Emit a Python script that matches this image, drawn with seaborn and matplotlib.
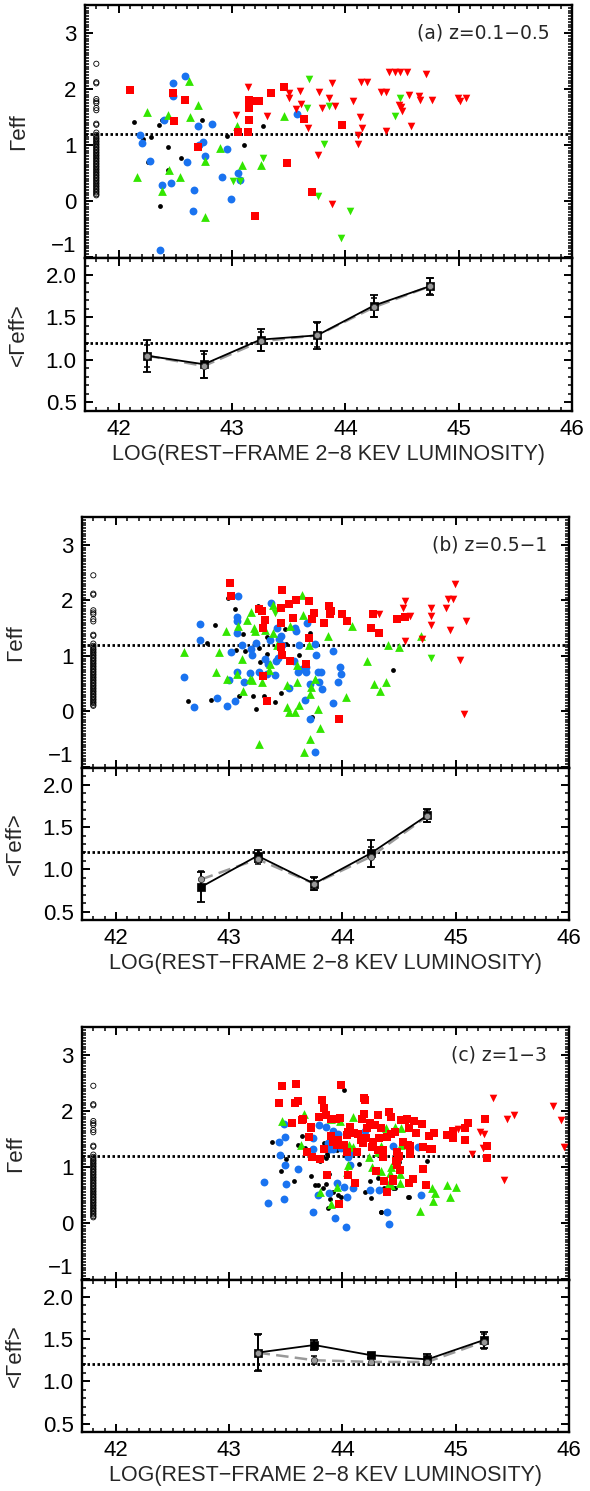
import numpy as np
import pandas as pd
import matplotlib
matplotlib.use('Agg')
import matplotlib.pyplot as plt
import seaborn as sns
from matplotlib.ticker import MultipleLocator, FormatStrFormatter

sns.set_theme(style='white')
plt.rcParams['font.family'] = ['Liberation Sans', 'DejaVu Sans']

# open circles at the left edge (same column in every panel)
open_x = 41.8
open_y = [2.45, 2.12, 2.10, 1.82, 1.78, 1.75, 1.66, 1.62, 1.38, 1.36, 1.22, 1.18, 1.15,
          1.12, 1.10, 1.07, 1.05, 1.02, 1.00, 0.97, 0.95, 0.92, 0.90, 0.87, 0.85, 0.82,
          0.80, 0.77, 0.75, 0.72, 0.70, 0.67, 0.65, 0.62, 0.60, 0.57, 0.55, 0.52, 0.50,
          0.47, 0.45, 0.42, 0.40, 0.37, 0.35, 0.32, 0.30, 0.27, 0.25, 0.22, 0.20, 0.17,
          0.15, 0.12, 0.10]

# ---- panel (a) z=0.1-0.5
a_dot_x = [42.13, 42.21, 42.26, 42.28, 42.35, 42.38, 42.43, 42.43, 42.36, 42.55, 42.73, 42.95, 43.10, 43.27]
a_dot_y = [1.41, 1.11, 0.70, 1.14, 1.36, 1.44, 0.96, 0.55, -0.09, 0.77, 1.45, 1.16, 1.00, 1.33]
a_blue_x = [42.19, 42.20, 42.27, 42.38, 42.40, 42.46, 42.48, 42.48, 42.58, 42.60, 42.66, 42.65,
            42.70, 42.71, 42.74, 42.76, 42.82, 42.36, 42.91, 42.95, 42.99, 43.05, 43.07, 43.57]
a_blue_y = [1.18, 1.04, 0.71, 0.28, 1.45, 0.32, 2.10, 1.88, 2.24, 0.69, 0.20, -0.18,
            1.33, 1.00, 1.06, 0.80, 1.37, -0.88, 0.42, 0.92, 0.04, 0.50, 0.37, 1.55]
a_gup_x = [42.16, 42.25, 42.38, 42.43, 42.44, 42.54, 42.62, 42.63, 42.70, 42.76, 42.76, 42.89, 43.04, 43.09, 43.25, 43.46]
a_gup_y = [0.42, 1.58, 0.18, 1.54, 0.55, 0.42, 2.15, 1.50, 1.72, -0.28, 0.71, 0.95, 1.33, 0.65, 0.65, 1.51]
a_gdn_x = [43.01, 43.07, 43.27, 43.66, 43.68, 43.76, 43.81, 43.85, 43.96, 44.04, 44.44, 44.48]
a_gdn_y = [0.35, 0.35, 0.77, 1.66, 2.18, 0.08, 1.01, 1.70, -0.66, -0.18, 1.51, 1.84]
a_sq_x = [42.10, 42.48, 42.49, 42.58, 42.70, 43.05, 43.14, 43.15, 43.15, 43.15, 43.21, 43.20,
          43.24, 43.34, 43.46, 43.48, 43.63, 43.70, 43.97]
a_sq_y = [1.98, 1.92, 1.42, 1.81, 0.97, 1.23, 1.23, 1.66, 1.80, 1.45, 1.78, -0.27,
          1.78, 1.92, 2.03, 0.68, 1.47, 0.16, 1.36]
a_rdn_x = [43.14, 43.03, 43.31, 43.50, 43.50, 43.56, 43.60, 43.61, 43.67, 43.76, 43.77, 43.79,
           43.85, 43.88, 43.88, 43.91, 44.07, 44.11, 44.11, 44.13, 44.15, 44.14, 44.19, 44.31,
           44.36, 44.36, 44.38, 44.44, 44.48, 44.54, 44.47, 44.49, 44.50, 44.58, 44.56, 44.65,
           44.66, 44.71, 44.76, 44.99, 45.01, 45.06]
a_rdn_y = [2.03, 1.54, 1.51, 1.92, 1.84, 1.64, 1.97, 1.73, 1.30, 0.82, 1.94, 1.66,
           1.83, 2.11, -0.06, 1.69, 1.78, 1.01, 1.17, 1.50, 1.30, 2.13, 2.12, 1.94,
           1.94, 1.25, 2.31, 2.30, 2.30, 2.30, 1.72, 1.67, 1.60, 1.34, 1.90, 1.88,
           1.80, 2.26, 1.81, 1.83, 1.79, 1.83]

# ---- panel (b) z=0.5-1
b_dot_x = [42.64, 42.80, 42.84, 42.87, 42.99, 43.05, 43.06, 43.09, 43.12, 43.14, 43.21, 43.24, 43.25,
           43.26, 43.27, 43.31, 43.33, 43.33, 43.40, 43.46, 43.49, 43.50, 43.62, 43.71, 43.73, 44.45]
b_dot_y = [0.18, 1.23, 0.21, 1.55, 2.04, 1.85, 1.10, 0.27, 1.39, 1.08, 0.27, 0.04, 1.89,
           1.14, 0.88, 0.27, 1.03, 1.34, 0.17, 0.33, 1.48, 1.22, 1.01, 1.42, -0.10, 0.75]
b_blue_x = [42.60, 42.69, 42.74, 42.74, 42.89, 42.98, 43.00, 43.02, 43.05, 43.07, 43.07, 43.07,
            43.08, 43.07, 43.11, 43.13, 43.18, 43.19, 43.20, 43.24, 43.26, 43.32, 43.33, 43.34,
            43.36, 43.37, 43.40, 43.41, 43.42, 43.43, 43.44, 43.46, 43.47, 43.53, 43.57, 43.58,
            43.59, 43.61, 43.62, 43.64, 43.67, 43.68, 43.68, 43.69, 43.71, 43.71, 43.76, 43.76,
            43.77, 43.78, 43.79, 43.81, 43.82, 43.92, 43.92, 43.96, 43.98, 43.99]
b_blue_y = [0.61, 0.08, 1.28, 1.58, 0.24, 0.10, 0.56, 1.06, 0.18, 0.70, 1.63, 1.70,
            2.08, 1.41, 1.20, 0.53, 0.69, 1.13, 1.01, 1.23, 0.71, 0.95, 0.68, 0.85,
            1.28, 1.96, 0.65, 0.91, 1.51, 0.96, 1.31, 1.36, 1.20, 0.42, 0.91, 1.50,
            1.44, 0.71, 1.20, 0.77, 0.21, 0.80, 0.71, 1.59, 0.50, -0.14, -0.74, 1.22,
            1.01, 0.71, 0.53, 0.71, 0.40, 0.15, 1.08, 0.52, 0.79, 0.68]
b_gup_x = [42.60, 42.88, 42.91, 42.97, 42.98, 43.07, 43.08, 43.11, 43.12, 43.16, 43.19, 43.18,
           43.20, 43.22, 43.23, 43.26, 43.29, 43.32, 43.35, 43.36, 43.39, 43.39, 43.42, 43.51,
           43.51, 43.53, 43.54, 43.58, 43.60, 43.62, 43.64, 43.65, 43.60, 43.66, 43.70, 43.71,
           43.71, 43.72, 43.76, 43.78, 43.80, 43.87, 44.08, 44.03, 44.22, 44.28, 44.33, 44.38,
           44.40, 44.50, 44.69]
b_gup_y = [1.06, 0.70, 1.07, 1.45, 0.59, 0.67, 1.53, 0.95, 0.36, 1.64, 1.79, 0.59,
           0.56, 1.51, 1.45, -0.58, 0.52, 1.47, 0.74, 0.86, 1.91, 1.42, 1.20, 0.47,
           0.07, -0.01, 1.54, -0.01, 0.53, 0.12, 2.10, 1.74, 0.83, -0.74, 1.19, -0.49,
           0.31, 0.43, 0.59, 0.04, -0.30, 1.36, 1.54, 0.26, 0.91, 0.49, 0.36, 0.52,
           1.20, 1.15, 1.35]
b_gdn_x = [43.40, 44.78]
b_gdn_y = [1.78, 0.96]
b_sq_x = [43.01, 43.02, 43.26, 43.29, 43.30, 43.32, 43.30, 43.33, 43.46, 43.46, 43.46, 43.47,
          43.47, 43.53, 43.54, 43.56, 43.59, 43.68, 43.70, 43.70, 43.73, 43.75, 43.84, 43.88,
          43.89, 43.90, 43.97, 44.00, 44.04, 44.25, 44.27, 44.32, 44.48, 44.55]
b_sq_y = [2.31, 2.08, 1.85, 1.81, 1.50, 1.65, 0.64, 0.19, 1.87, 1.60, 1.15, 1.02,
          2.18, 1.93, 0.90, 1.69, 2.01, 0.85, 1.98, 1.32, 1.67, 1.78, 1.60, 1.89,
          1.76, 1.81, -0.14, 1.75, 1.62, 1.50, 1.76, 1.42, 1.66, 1.70]
b_rdn_x = [44.32, 44.53, 44.55, 44.55, 44.60, 44.70, 44.78, 44.78, 44.78, 44.91, 44.93, 44.95,
           44.98, 44.99, 45.04, 45.07, 45.09]
b_rdn_y = [1.75, 1.86, 1.99, 1.26, 1.72, 1.31, 1.87, 1.72, 1.56, 1.87, 2.02, 1.47,
           2.03, 2.30, 0.92, -0.05, 1.63]

# ---- panel (c) z=1-3
c_dot_x = [43.38, 43.50, 43.46, 43.57, 43.64, 43.61, 43.67, 43.72, 43.76, 43.78, 43.83, 43.85,
           43.84, 43.86, 43.85, 43.80, 43.87, 43.89, 43.92, 43.96, 43.99, 44.01, 43.88, 44.15,
           44.20, 44.25, 44.24, 44.31, 44.34, 44.37, 44.46, 44.50, 44.58, 43.95, 44.75, 44.59,
           44.45, 44.34]
c_dot_y = [1.44, 1.14, 0.92, 0.74, 1.56, 1.40, 1.34, 0.83, 0.68, 0.67, 0.62, 0.69,
           1.42, 1.23, 1.16, 1.11, 0.26, 0.43, 0.56, 0.50, 0.46, 2.37, 0.88, 1.05,
           0.55, 0.45, 0.75, 0.80, 0.20, 0.63, 0.62, 1.09, 0.46, 1.30, 1.11, 0.46,
           0.62, 0.19]
c_blue_x = [43.31, 43.34, 43.48, 43.49, 43.44, 43.45, 43.49, 43.50, 43.48, 43.61, 43.74, 43.79,
            43.85, 43.74, 43.74, 43.87, 43.89, 43.92, 43.92, 43.96, 43.99, 44.05, 44.09, 44.07,
            43.95, 44.01, 44.09, 44.04, 43.88, 43.78, 43.93, 44.03, 44.20, 44.24, 44.32, 44.39,
            44.41, 44.45, 44.67, 44.69]
c_blue_y = [0.73, 0.36, 1.76, 1.54, 1.44, 1.21, 1.03, 0.70, 0.43, 0.97, 0.20, 1.75,
            1.72, 1.51, 1.32, 1.42, 1.32, 1.32, 1.64, 1.59, 1.34, 1.18, 1.26, 1.04,
            0.71, 0.64, 0.62, 0.46, 0.53, 0.49, 0.09, -0.08, 1.64, 0.58, 0.58, 0.20,
            -0.02, 1.37, 1.36, 0.49]
c_gup_x = [43.47, 43.66, 43.83, 43.90, 43.98, 44.09, 44.38, 44.46, 44.52, 43.63, 44.06, 44.09,
           44.34, 44.52, 44.31, 44.23, 44.05, 44.04, 44.26, 44.34, 44.43, 44.42, 44.51, 44.41,
           44.43, 44.51, 43.80, 43.90, 43.95, 44.79, 44.82, 44.80, 44.92, 45.00, 44.95, 44.68]
c_gup_y = [1.82, 1.95, 1.94, 1.85, 1.82, 1.89, 1.69, 1.71, 1.69, 1.39, 1.39, 1.35,
           1.38, 1.39, 1.26, 1.18, 1.03, 0.91, 0.99, 0.92, 0.99, 0.89, 0.87, 0.71,
           0.68, 0.71, 0.56, 0.34, 0.65, 0.62, 0.53, 0.39, 0.68, 0.65, 0.47, 0.22]
c_sq_x = [43.47, 43.59, 43.44, 43.58, 43.61, 43.82, 43.84, 43.99, 44.19, 44.20, 43.85, 43.79,
          43.65, 43.55, 43.72, 43.90, 43.94, 43.98, 44.17, 44.19, 44.24, 44.31, 44.41, 44.43,
          44.55, 44.07, 44.05, 44.10, 44.14, 44.22, 44.26, 44.29, 44.34, 44.43, 44.46, 43.70,
          43.90, 43.92, 43.96, 44.04, 44.16, 44.21, 44.27, 44.32, 44.39, 44.53, 43.69, 43.73,
          43.80, 43.84, 43.95, 44.01, 44.04, 44.13, 44.18, 44.26, 44.31, 44.36, 44.48, 44.49,
          44.58, 43.86, 44.05, 44.30, 44.48, 44.51, 44.11, 44.37, 44.45, 44.39, 43.97, 43.64,
          43.72, 43.70, 44.52, 44.57, 44.63, 44.70, 44.59, 44.65, 44.76, 44.81, 44.92, 44.98,
          44.98, 45.08, 45.11, 45.08, 45.26, 45.28, 45.28, 44.71, 44.77, 44.79, 44.60, 44.60,
          44.50, 44.47, 44.71, 44.62, 44.59, 44.74, 44.39, 44.45, 44.36]
c_sq_y = [2.44, 2.49, 2.15, 2.15, 2.17, 2.19, 2.06, 2.46, 2.24, 2.20, 1.92, 1.89,
          1.85, 1.79, 1.71, 1.85, 1.85, 1.88, 1.86, 1.95, 1.78, 1.92, 1.99, 1.89,
          1.84, 1.72, 1.63, 1.60, 1.58, 1.69, 1.75, 1.75, 1.69, 1.58, 1.62, 1.54,
          1.56, 1.45, 1.48, 1.57, 1.48, 1.51, 1.45, 1.51, 1.54, 1.45, 1.27, 1.18,
          1.15, 1.32, 1.39, 1.39, 1.26, 1.27, 1.42, 1.36, 1.30, 1.17, 1.27, 1.18,
          1.39, 0.86, 0.86, 0.92, 1.04, 0.95, 0.72, 0.75, 0.74, 0.55, 0.33, 1.83,
          1.70, 1.54, 1.84, 1.85, 1.82, 1.76, 1.69, 1.60, 1.55, 1.60, 1.57, 1.64,
          1.51, 1.69, 1.79, 1.48, 1.85, 1.37, 1.16, 1.36, 1.32, 1.32, 1.38, 1.23,
          1.20, 1.10, 0.97, 0.79, 0.71, 0.68, 0.56, 0.79, 1.30]
c_rdn_x = [45.33, 45.45, 45.02, 45.21, 45.25, 45.14, 45.24, 45.43, 45.86, 45.93, 45.96, 45.51]
c_rdn_y = [2.23, 1.85, 1.67, 1.63, 1.58, 1.24, 1.34, 0.77, 2.08, 1.83, 1.36, 1.92]

# ---- binned means (black = solid, grey = dashed)
bins_a = [42.25, 42.75, 43.25, 43.75, 44.25, 44.75]
a_mean = [1.05, 0.95, 1.24, 1.29, 1.64, 1.87]
a_err = [0.19, 0.16, 0.13, 0.16, 0.13, 0.10]
a_mean2 = [1.05, 0.93, 1.22, 1.29, 1.62, 1.87]
a_err2 = [0.13, 0.14, 0.11, 0.14, 0.11, 0.09]

bins_b = [42.75, 43.25, 43.75, 44.25, 44.75]
b_mean = [0.79, 1.16, 0.83, 1.19, 1.64]
b_err = [0.18, 0.07, 0.08, 0.16, 0.08]
b_mean2 = [0.88, 1.12, 0.83, 1.15, 1.63]
b_err2 = [0.10, 0.06, 0.07, 0.12, 0.07]

bins_c = [43.25, 43.75, 44.25, 44.75, 45.25]
c_mean = [1.34, 1.43, 1.31, 1.26, 1.49]
c_err = [0.22, 0.06, 0.03, 0.06, 0.10]
c_mean2 = [1.34, 1.25, 1.23, 1.23, 1.47]
c_err2 = [0.21, 0.05, 0.03, 0.04, 0.09]

labels = ['(a) z=0.1\u22120.5', '(b) z=0.5\u22121', '(c) z=1\u22123']

RED = '#ff0000'
BLUE = '#1a73f0'
GREEN = '#33e600'


def style_axes(ax, ymajor, yminor):
    ax.set_xlim(41.7, 46)
    ax.xaxis.set_major_locator(MultipleLocator(1))
    ax.xaxis.set_minor_locator(MultipleLocator(0.1))
    ax.yaxis.set_major_locator(MultipleLocator(ymajor))
    ax.yaxis.set_minor_locator(MultipleLocator(yminor))
    ax.tick_params(which='both', direction='in', top=True, right=True, bottom=True, left=True,
                   labelsize=16, colors='black', pad=6)
    ax.tick_params(which='major', length=6, width=1.4)
    ax.tick_params(which='minor', length=3, width=1.1)
    for sp in ax.spines.values():
        sp.set_linewidth(1.7)
        sp.set_color('black')
    ax.axhline(1.2, color='black', lw=2.0, dashes=(0.9, 0.9), zorder=1)
    ax.set_xlabel('')
    ax.set_ylabel('')


def scatter_panel(ax, groups, label):
    sns.scatterplot(x=[open_x] * len(open_y), y=open_y, ax=ax, marker='o', s=14,
                    facecolor='none', edgecolor='black', linewidth=0.6, zorder=3)
    for x, y, mk, col, size, lw in groups:
        sns.scatterplot(x=x, y=y, ax=ax, marker=mk, color=col, s=size,
                        edgecolor=col, linewidth=lw, zorder=3)
    style_axes(ax, 1, 0.05)
    ax.set_ylim(-1.02, 3.5)
    ax.tick_params(labelbottom=False)
    ax.set_ylabel('\u0393eff', fontsize=16)
    ax.yaxis.set_label_coords(-0.115, 0.5)
    ax.text(0.955, 3.0, label, transform=ax.get_yaxis_transform(), ha='right', va='center',
            fontsize=13.5, family=['DejaVu Sans'])


def mean_panel(ax, bins, m1, e1, m2, e2):
    sns.lineplot(x=bins, y=m2, ax=ax, color='#999999', lw=1.8, dashes=False,
                 linestyle=(0, (5, 2.5)), zorder=3)
    sns.lineplot(x=bins, y=m1, ax=ax, color='black', lw=1.3, zorder=4)
    ax.errorbar(bins, m2, yerr=e2, fmt='none', ecolor='black', elinewidth=1.1,
                capsize=2.5, capthick=1.1, zorder=5)
    ax.errorbar(bins, m1, yerr=e1, fmt='none', ecolor='black', elinewidth=1.4,
                capsize=3, capthick=1.3, zorder=5)
    sns.scatterplot(x=bins, y=m1, ax=ax, marker='s', color='black', s=34,
                    edgecolor='black', linewidth=0.5, zorder=6)
    sns.scatterplot(x=bins, y=m2, ax=ax, marker='o', color='#999999', s=20,
                    edgecolor='#333333', linewidth=0.6, zorder=7)
    style_axes(ax, 0.5, 0.1)
    ax.set_ylim(0.4, 2.2)
    ax.yaxis.set_major_formatter(FormatStrFormatter('%.1f'))
    ax.set_ylabel('<\u0393eff>', fontsize=16)
    ax.yaxis.set_label_coords(-0.115, 0.5)
    ax.set_xlabel('LOG(REST\u2212FRAME 2\u22128 KEV LUMINOSITY)', fontsize=15.5, labelpad=3)


fig = plt.figure(figsize=(5.9, 14.91), dpi=100)
W, H = 590.0, 1491.0

# pixel frames: left, right, top, middle, bottom
frames = [(85, 572, 5, 258, 411), (82, 569, 517, 768, 920), (82, 569, 1027, 1280, 1432)]

panels = [
    [(a_dot_x, a_dot_y, 'o', 'black', 12, 0),
     (a_blue_x, a_blue_y, 'o', BLUE, 32, 0),
     (a_gup_x, a_gup_y, '^', GREEN, 40, 0),
     (a_gdn_x, a_gdn_y, 'v', GREEN, 30, 0),
     (a_sq_x, a_sq_y, 's', RED, 34, 0),
     (a_rdn_x, a_rdn_y, 'v', RED, 30, 0)],
    [(b_dot_x, b_dot_y, 'o', 'black', 12, 0),
     (b_blue_x, b_blue_y, 'o', BLUE, 32, 0),
     (b_gup_x, b_gup_y, '^', GREEN, 40, 0),
     (b_gdn_x, b_gdn_y, 'v', GREEN, 30, 0),
     (b_sq_x, b_sq_y, 's', RED, 34, 0),
     (b_rdn_x, b_rdn_y, 'v', RED, 30, 0)],
    [(c_dot_x, c_dot_y, 'o', 'black', 12, 0),
     (c_blue_x, c_blue_y, 'o', BLUE, 32, 0),
     (c_gup_x, c_gup_y, '^', GREEN, 40, 0),
     (c_sq_x, c_sq_y, 's', RED, 34, 0),
     (c_rdn_x, c_rdn_y, 'v', RED, 30, 0)],
]
means = [(bins_a, a_mean, a_err, a_mean2, a_err2),
         (bins_b, b_mean, b_err, b_mean2, b_err2),
         (bins_c, c_mean, c_err, c_mean2, c_err2)]

top_axes = []
for (l, r, t, m, b), groups, mdata, lab in zip(frames, panels, means, labels):
    ax_top = fig.add_axes([l / W, 1 - m / H, (r - l) / W, (m - t) / H])
    ax_bot = fig.add_axes([l / W, 1 - b / H, (r - l) / W, (b - m) / H])
    scatter_panel(ax_top, groups, lab)
    mean_panel(ax_bot, *mdata)
    top_axes.append(ax_top)

# lift the "-1" label of each upper panel so it sits above the panel boundary
fig.canvas.draw()
for ax in top_axes:
    for tick in ax.yaxis.get_major_ticks():
        if abs(tick.get_loc() + 1) < 1e-6:
            tick.label1.set_verticalalignment('bottom')

fig.savefig('out.png', dpi=100)
